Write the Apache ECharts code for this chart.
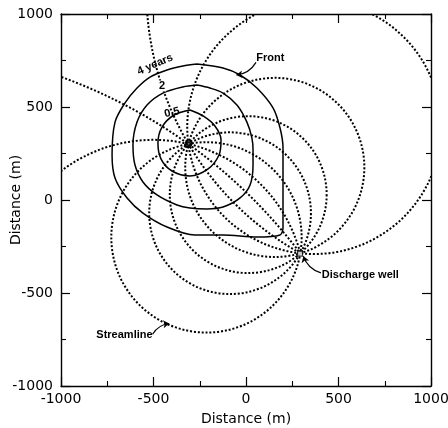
<!DOCTYPE html>
<html>
<head>
<meta charset="utf-8">
<script src="https://cdn.jsdelivr.net/npm/echarts/dist/echarts.min.js"></script>
<style>
html,body{margin:0;padding:0;background:#fff;}
#chart{width:448px;height:428px;}
</style>
</head>
<body>
<div id="chart"></div>
<script>
// ---- data ----
const axisTicks = [-1000, -500, 0, 500, 1000];
const injectionWell = [-310, 303];
const dischargeWell = [292, -288];

// streamline arcs: [centerX, centerY, radius, startAngleDeg, endAngleDeg] (counter-clockwise, data space)
const streamArcs = [
  [-500.8, -493.4, 819.0, 14.73, 127.55],
  [-1960.2, -1979.9, 2816.8, 36.91, 70.07],
  [1089.5, 1126.4, 1623.7, 184.46, 240.58],
  [368.6, 392.1, 684.4, 117.34, 263.57],
  [368.6, 392.1, 684.4, 22.70, 62.66],
  [368.6, 392.1, 684.4, -96.43, -22.70],
  [155.6, 175.2, 482.8, 0, 360],
  [12.0, 28.9, 422.9, 0, 360],
  [-86.1, -71.0, 435.9, 0, 360],
  [-213.6, -200.9, 513.0, 0, 360]
];

const front05 = [[-303,484],[-232,452],[-168,398],[-135,323],[-146,242],[-205,167],[-303,129],[-400,156],[-459,220],[-476,306],[-454,392],[-389,457],[-303,484]];
const front2 = [[-265,618],[-195,602],[-124,575],[-49,511],[5,419],[32,333],[38,269],[38,188],[22,81],[-32,11],[-124,-38],[-211,-48],[-303,-43],[-373,-27],[-481,27],[-557,97],[-600,188],[-611,296],[-589,419],[-535,511],[-449,575],[-341,608],[-265,618]];
const front4 = [[-265,731],[-124,710],[-32,672],[59,602],[146,495],[184,387],[200,280],[200,108],[200,-54],[200,-151],[184,-188],[59,-199],[-124,-188],[-276,-188],[-427,-145],[-557,-70],[-643,11],[-708,118],[-724,242],[-708,419],[-654,522],[-589,602],[-519,661],[-427,699],[-341,720],[-265,731]];

const labelTexts = ['4 years', '2', '0.5', 'Front', 'Discharge well', 'Streamline'];
// ---- layout (annotation anchors in data units) ----
const labelAnchors = [[-492, 728], [-454, 613], [-400, 470], [56, 763], [410, -403], [-505, -726]];
const labelRotations = [24, 0, 14, 0, 0, 0];
const labelAligns = ['center', 'center', 'center', 'left', 'left', 'right'];
const labelBackgrounds = [null, '#fff', null, null, null, null];
const leaderLines = [
  [[54, 740], [-52, 672]],
  [[405, -392], [310, -302]],
  [[-505, -722], [-415, -664]]
];

const font = 'DejaVu Sans';
const noteFont = 'bold 11px "Liberation Sans"';
function axisCommon(pos, showLabel) {
  return {
    type: 'value', position: pos, min: -1000, max: 1000, interval: 500,
    axisLine: {show: true, onZero: false, lineStyle: {color: '#000', width: 1.4}},
    axisTick: {show: true, inside: true, length: 9, lineStyle: {color: '#000', width: 1.2}},
    minorTick: {show: true, splitNumber: 2, length: 5, lineStyle: {color: '#000', width: 1.1}},
    splitLine: {show: false},
    axisLabel: {show: showLabel, color: '#000', fontFamily: font, fontSize: 14,
      formatter: v => axisTicks.includes(v) ? String(v) : ''}
  };
}

const chart = echarts.init(document.getElementById('chart'), null, {renderer: 'canvas'});
const xBottom = Object.assign(axisCommon('bottom', true), {
  name: 'Distance (m)', nameLocation: 'middle', nameGap: 26, nameMoveOverlap: false,
  nameTextStyle: {color: '#000', fontFamily: font, fontSize: 14}
});
xBottom.axisLabel.margin = 6;
const yLeft = Object.assign(axisCommon('left', true), {
  name: 'Distance (m)', nameLocation: 'middle', nameGap: 38, nameMoveOverlap: false,
  nameTextStyle: {color: '#000', fontFamily: font, fontSize: 14}
});
yLeft.axisLabel.margin = 8;

const option = {
  animation: false,
  backgroundColor: '#fff',
  grid: {left: 61, right: 17, top: 14, bottom: 42, containLabel: false, outerBoundsMode: 'none'},
  xAxis: [xBottom, axisCommon('top', false)],
  yAxis: [yLeft, axisCommon('right', false)],
  series: [
    {
      type: 'custom', coordinateSystem: 'cartesian2d', clip: true,
      encode: {x: 0, y: 1},
      data: streamArcs,
      renderItem: function (params, api) {
        const c = api.coord([api.value(0), api.value(1)]);
        const ex = api.coord([api.value(0) + api.value(2), api.value(1)]);
        const ey = api.coord([api.value(0), api.value(1) + api.value(2)]);
        const r = ((ex[0] - c[0]) + (c[1] - ey[1])) / 2;
        const a0 = api.value(3) * Math.PI / 180, a1 = api.value(4) * Math.PI / 180;
        return {
          type: 'arc',
          shape: {cx: c[0], cy: c[1], r: r, startAngle: -a1, endAngle: -a0, clockwise: true},
          style: {fill: null, stroke: '#000', lineWidth: 2, lineDash: [2, 1.9]}
        };
      },
      z: 2
    },
    ...[front05, front2, front4].map(d => ({
      type: 'line', data: d, smooth: 0.3, showSymbol: false, symbol: 'none',
      lineStyle: {color: '#000', width: 1.5}, z: 3
    })),
    {
      type: 'scatter', data: [injectionWell], symbol: 'circle', symbolSize: 7,
      itemStyle: {color: '#000', borderColor: '#000'}, z: 5
    },
    {
      type: 'scatter', data: [injectionWell], symbol: 'circle', symbolSize: 2,
      itemStyle: {color: '#888'}, z: 6
    },
    {
      type: 'scatter', data: [dischargeWell], symbol: 'rect', symbolSize: 5,
      itemStyle: {color: '#fff', borderColor: '#000', borderWidth: 1.2}, z: 5
    },
    {
      type: 'lines', coordinateSystem: 'cartesian2d', polyline: false,
      symbol: ['none', 'arrow'], symbolSize: 6,
      lineStyle: {color: '#000', width: 1.2, curveness: 0.25, opacity: 1},
      data: leaderLines.map(c => ({coords: c})), z: 6
    },
    {
      type: 'custom', coordinateSystem: 'cartesian2d', clip: false, silent: true, z: 7,
      encode: {x: 0, y: 1},
      data: labelAnchors.map((p, i) => [p[0], p[1], i]),
      renderItem: function (params, api) {
        const i = api.value(2);
        const p = api.coord([api.value(0), api.value(1)]);
        return {
          type: 'text', x: p[0], y: p[1], rotation: labelRotations[i] * Math.PI / 180,
          style: {
            text: labelTexts[i], fill: '#000', font: noteFont,
            align: labelAligns[i], verticalAlign: 'middle',
            backgroundColor: labelBackgrounds[i] || null,
            padding: labelBackgrounds[i] ? [0, 1] : 0
          }
        };
      }
    }
  ]
};
chart.setOption(option);
</script>
</body>
</html>
